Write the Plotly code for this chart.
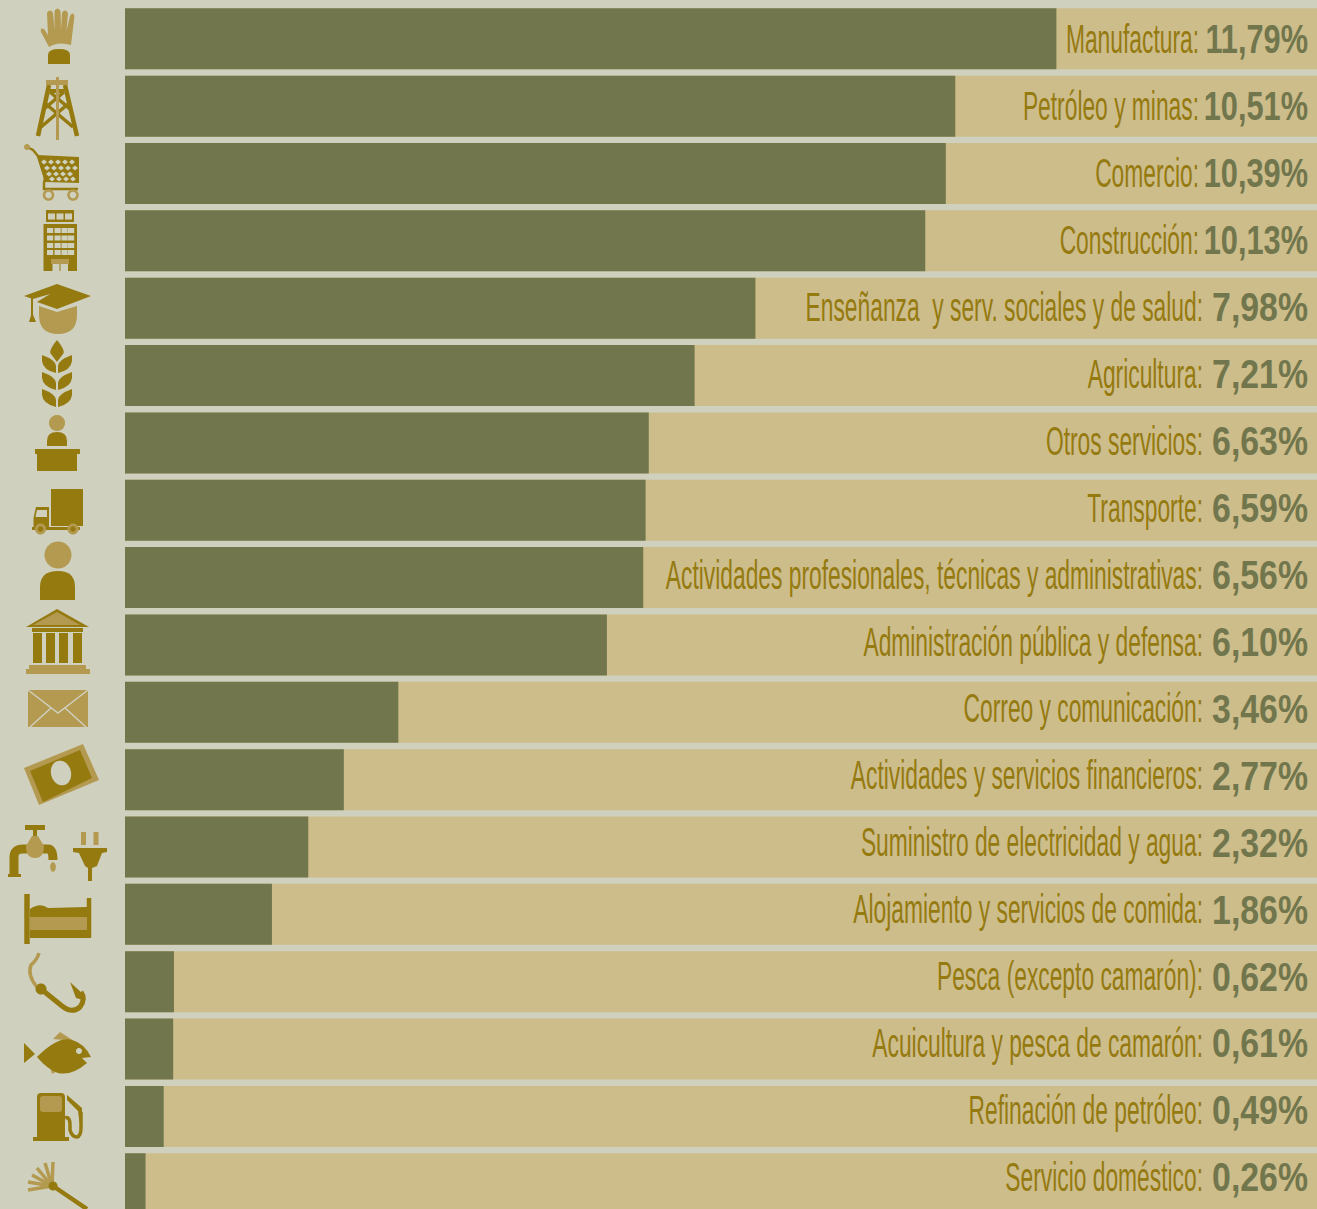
import re
import numpy as np
import plotly.graph_objects as go

categories = ["Manufactura", "Petróleo y minas", "Comercio", "Construcción",
              "Enseñanza\u00a0 y serv. sociales y de salud", "Agricultura", "Otros servicios",
              "Transporte", "Actividades profesionales, técnicas y administrativas",
              "Administración pública y defensa", "Correo y comunicación",
              "Actividades y servicios financieros", "Suministro de electricidad y agua",
              "Alojamiento y servicios de comida", "Pesca (excepto camarón)",
              "Acuicultura y pesca de camarón", "Refinación de petróleo", "Servicio doméstico"]
shares = [11.79, 10.51, 10.39, 10.13, 7.98, 7.21, 6.63, 6.59, 6.56, 6.10,
          3.46, 2.77, 2.32, 1.86, 0.62, 0.61, 0.49, 0.26]
track_max = 15.1

W, H = 1317, 1209
BG, TRACK, BAR = "#CFD0BE", "#CDBD8B", "#71764D"
DARK, LIGHT = "#957A10", "#B39A50"
LEFT, PXU = 125, 79.0
Y0, PITCH = 38.8, 67.35

value_text = [f"{v:.2f}".replace(".", ",") + "%" for v in shares]
label_text = [c + ":" for c in categories]
idx = list(range(len(shares)))
label_x = [(1199 if v >= 10 else 1203) for v in shares]
label_x = [(p - LEFT) / PXU for p in label_x]
value_x = [(1308 - LEFT) / PXU] * len(shares)
text_y = [(43 + 66.95 * i - Y0) / PITCH for i in idx]

shapes = []
def conv(m):
    return f"{float(m.group(1))/W:.5f},{1-float(m.group(2))/H:.5f}"
def fill(path, color=DARK):
    shapes.append(dict(type="path", xref="paper", yref="paper", layer="above",
                       path=re.sub(r"(-?[\d.]+),(-?[\d.]+)", conv, path),
                       fillcolor=color, line=dict(width=0)))
def stroke(path, width, color=DARK):
    shapes.append(dict(type="path", xref="paper", yref="paper", layer="above",
                       path=re.sub(r"(-?[\d.]+),(-?[\d.]+)", conv, path),
                       fillcolor="rgba(0,0,0,0)", line=dict(width=width, color=color)))
def rect(x0, y0, x1, y1, color=DARK):
    fill(f"M {x0},{y0} L {x1},{y0} L {x1},{y1} L {x0},{y1} Z", color)
def ellipse(cx, cy, rx, ry=None, color=DARK, rot=0):
    ry = rx if ry is None else ry
    t = np.linspace(0, 2*np.pi, 37)[:-1]
    c, s = np.cos(np.radians(rot)), np.sin(np.radians(rot))
    pts = [(cx + rx*np.cos(a)*c - ry*np.sin(a)*s, cy + rx*np.cos(a)*s + ry*np.sin(a)*c) for a in t]
    fill("M " + " L ".join(f"{x:.2f},{y:.2f}" for x, y in pts) + " Z", color)
def ring(cx, cy, r, width, color):
    t = np.linspace(0, 2*np.pi, 37)
    stroke("M " + " L ".join(f"{cx+r*np.cos(a):.2f},{cy+r*np.sin(a):.2f}" for a in t), width, color)

# 1 glove
fill("M 49,47 L 41,32 Q 40,27 44,29 L 48,35 L 47,13 Q 50,8 53,13 L 54.5,30 L 54.5,11 Q 57.5,6 60.5,11 L 61,30 L 62,13 Q 65,8 68,13 L 66.5,31 L 70,16 Q 73,11 74.5,16 L 71,45 Q 58,41 49,47 Z", LIGHT)
fill("M 48,64 L 48,55 Q 48,49 59,49 Q 70,49 70,55 L 70,64 Z")
# 2 derrick
stroke("M 49,85 L 38,136", 4.5); stroke("M 65,85 L 77,136", 4.5)
stroke("M 50,92 L 70,109", 3.5); stroke("M 64,92 L 44,109", 3.5)
stroke("M 46,104 L 73,127", 3.5); stroke("M 68,104 L 41,127", 3.5)
stroke("M 50,91 L 64,91", 4)
rect(56, 77, 59, 140, LIGHT); rect(46, 80, 68, 85, LIGHT)
# 3 cart
fill("M 37,155 L 79,157 L 79,183 L 45,182 Z")
for r_y, xs in [(162, [44, 51, 58, 65, 72]), (168, [47, 54, 61, 68, 75]),
                (174, [49, 56, 63, 70]), (179, [52, 59, 66, 73])]:
    for x in xs:
        fill(f"M {x-3},{r_y} L {x},{r_y-2.6} L {x+3},{r_y} L {x},{r_y+2.6} Z", BG)
stroke("M 27,147 L 33,150 L 38,156 L 45,178 L 44,183 L 44,189 L 78,189", 2.5)
ellipse(27, 147, 3, color=LIGHT)
ring(48.5, 195, 4.5, 2.5, LIGHT); ring(73, 195, 4.5, 2.5, LIGHT)
# 4 building
rect(46, 210, 74, 222); rect(43.5, 224, 77, 271)
for x in (48, 56.5, 65):
    rect(x, 213.5, x+7, 219.5, BG)
for y in (228, 235.5, 243, 250):
    for x in (47, 54.5, 61.5, 68):
        rect(x, y, x+6.2, y+5, BG)
rect(51, 259, 69, 264, LIGHT)
rect(52.5, 264, 59.5, 271, BG); rect(60.5, 264, 68, 271, BG)
# 5 mortarboard
fill("M 24,296 L 57,284 L 91,296 L 57,309 L 37,302 L 50,294 L 33,299 Z")
stroke("M 32,298 L 32,315", 2)
fill("M 29,322 L 32,312 L 36,322 Z")
fill("M 39,306 L 57,312 L 77,306 L 77,315 Q 77,334 58,334 Q 39,334 39,315 Z", LIGHT)
# 6 wheat
fill("M 57,340 Q 66,351 63,354 L 57,362 L 51,354 Q 48,351 57,340 Z")
for y in (355, 372, 389):
    fill(f"M 42,{y} L 42,{y+6} Q 43,{y+15} 56,{y+18} L 56,{y+11} Q 56,{y+5} 42,{y} Z")
    fill(f"M 72,{y} L 72,{y+6} Q 71,{y+15} 58,{y+18} L 58,{y+11} Q 58,{y+5} 72,{y} Z")
# 7 speaker
ellipse(57, 423, 8, color=LIGHT)
fill("M 47,446 L 47,441 Q 47,432 57,432 Q 67,432 67,441 L 67,446 Z")
rect(35, 449, 80, 454); rect(37, 454, 77, 471)
# 8 truck
rect(51, 489, 83, 526)
fill("M 33.5,527 L 33.5,518 L 36,507 L 49,507 L 49,527 Z")
fill("M 35.5,517 L 37,510 L 47,510 L 47,517 Z", BG)
rect(32, 527, 80, 530)
for x in (40.5, 73):
    ellipse(x, 529, 5.5, color=LIGHT); ellipse(x, 529, 2.7)
# 9 person
ellipse(58, 555, 13.5, color=LIGHT)
fill("M 40,600 L 40,587 Q 40,571 58,571 Q 75,571 75,587 L 75,600 Z")
# 10 bank
fill("M 26,627 L 57,609 L 89,627 Z")
fill("M 33,625 L 57,612 L 80,625 Z", LIGHT)
rect(32, 628, 83, 632)
for x in (33, 46, 59, 73):
    rect(x, 633, x+9, 663)
rect(29, 665, 86, 669, LIGHT); rect(26, 669, 90, 674, LIGHT)
# 11 envelope
rect(28, 690, 88, 727, LIGHT)
stroke("M 28,690 L 58,713 L 88,690", 1.5, BG)
stroke("M 30,727 L 51,708", 1.5, BG); stroke("M 86,727 L 65,708", 1.5, BG)
# 12 banknote
fill("M 24,768 L 83,744 L 99,780 L 39,805 Z", LIGHT)
fill("M 30,771 L 80,750 L 92,778 L 43,802 Z")
ellipse(61, 773, 10, 12.5, BG, rot=-15)
# 13 tap and plug
stroke("M 14,876 L 14,857 Q 14,849 23,849 L 48,849 Q 53,849 53,860", 9)
rect(8, 874, 21, 877)
stroke("M 25,827.5 L 45,827.5", 5); rect(33, 830, 37, 838)
fill("M 26,846 L 32,836 L 38,836 L 44,846 Q 44,858 35,858 Q 26,858 26,846 Z", LIGHT)
ellipse(53, 867, 2.8, 4.8, LIGHT)
stroke("M 83.5,832 L 83.5,845", 5, LIGHT); stroke("M 96,832 L 96,845", 5, LIGHT)
fill("M 73,848 L 107,848 L 107,852 L 102,853 L 97,866 L 92,868 L 92,881 L 88,881 L 88,868 L 85,866 L 79,853 L 73,852 Z")
# 14 bed
stroke("M 27,894 L 27,944", 5.5)
stroke("M 89,898 L 89,937", 4.5)
rect(30, 930, 91, 938)
rect(30, 917, 87, 930, LIGHT)
fill("M 30,917 L 30,909 Q 40,902 48,908 L 87,907 L 87,917 Z")
# 15 hook
stroke("M 39,953 Q 37,960 31,965 Q 27,975 37,987", 3.5, LIGHT)
ellipse(41, 989, 5.5)
stroke("M 41,989 L 62,1006 Q 72,1014 80,1007 Q 86,999 81,992", 5)
fill("M 70,982 L 82,993 L 83,1000 L 76,998 Z")
# 16 fish
fill("M 53,1039 L 60,1032 L 74,1041 Z", LIGHT)
fill("M 50,1067 L 52,1074 L 63,1068 Z", LIGHT)
fill("M 37,1057 Q 58,1036 72,1040 Q 84,1043 91,1057 L 82,1058 L 87,1063 Q 72,1076 58,1073 Q 48,1070 37,1057 Z")
fill("M 24,1043 L 35,1054 L 24,1063 Z")
ellipse(79, 1051, 3, color=BG)
# 17 fuel pump
fill("M 37,1140 L 37,1097 Q 37,1093 41,1093 L 61,1093 Q 65,1093 65,1097 L 65,1140 Z")
rect(33, 1137, 69, 1141)
fill("M 40,1099 Q 40,1096 43,1096 L 59,1096 Q 62,1096 62,1099 L 62,1109 Q 62,1112 59,1112 L 43,1112 Q 40,1112 40,1109 Z", LIGHT)
stroke("M 65,1118 Q 70,1116 70,1125 L 70,1130 Q 72,1137 77,1137 Q 81,1136 81,1128 L 81,1112", 3.5)
fill("M 67,1095 L 82,1108 L 82,1122 L 79.5,1122 L 78,1111 L 67,1100 Z")
# 18 feather duster
for x, y in [(53, 1162), (45, 1163), (37, 1168), (32, 1175), (28, 1182), (28, 1190)]:
    stroke(f"M 52,1186 L {x},{y}", 3.5, LIGHT)
ellipse(53, 1186, 4.5)
stroke("M 53,1186 L 87,1209", 4.5)

fig = go.Figure()
fig.add_bar(y=idx, x=[track_max]*len(idx), orientation="h", marker=dict(color=TRACK, line_width=0),
            width=61/PITCH, hoverinfo="skip")
fig.add_bar(y=idx, x=shares, orientation="h", marker=dict(color=BAR, line_width=0),
            width=61/PITCH, hoverinfo="skip")
fig.add_scatter(y=text_y, x=label_x, mode="text", text=label_text, textposition="middle left",
                textfont=dict(family="Liberation Sans", size=40, color=DARK),
                cliponaxis=False, hoverinfo="skip")
fig.add_scatter(y=text_y, x=value_x, mode="text", text=value_text, textposition="middle left",
                textfont=dict(family="Liberation Sans", size=41, color=BAR, weight="bold"),
                cliponaxis=False, hoverinfo="skip")
fig.update_layout(width=W, height=H, barmode="overlay", showlegend=False,
                  paper_bgcolor=BG, plot_bgcolor=BG, margin=dict(l=0, r=0, t=0, b=0),
                  shapes=shapes)
fig.update_xaxes(range=[-LEFT/PXU, (W-LEFT)/PXU], visible=False, fixedrange=True)
fig.update_yaxes(range=[(H-Y0)/PITCH, -Y0/PITCH], visible=False, fixedrange=True)

post = """
document.body.style.margin='0';
document.documentElement.style.overflow='hidden';
function squeeze(){
  var tr=document.querySelectorAll('.scatterlayer .trace');
  tr.forEach(function(t,i){
    t.querySelectorAll('.textpoint text').forEach(function(e){
      var s = i===0 ? 0.57 : (e.textContent.length>5 ? 0.75 : 0.825);
      e.style.transformBox='fill-box';
      e.style.transformOrigin='right center';
      e.style.transform='scaleX('+s+')';
    });
  });
}
squeeze();
var gd=document.getElementsByClassName('plotly-graph-div')[0];
if(gd&&gd.on){gd.on('plotly_afterplot',squeeze);}
"""
fig.write_html("out.html", post_script=post, config=dict(displayModeBar=False))
